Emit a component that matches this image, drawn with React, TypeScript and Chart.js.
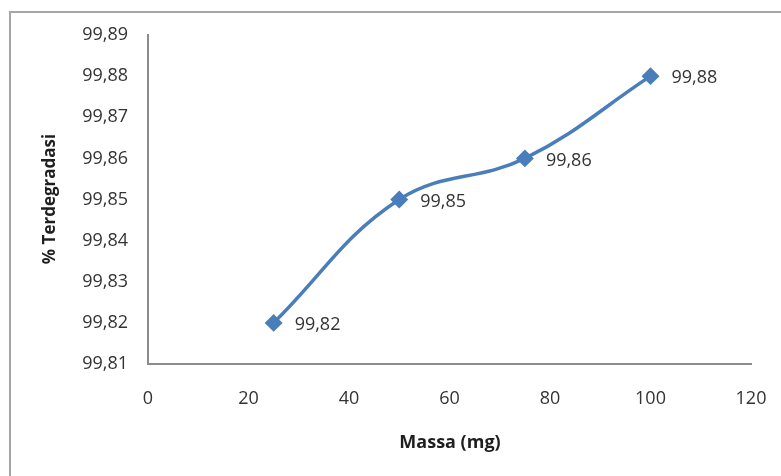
import React, { useEffect, useRef } from "react";
import { Chart, registerables } from "chart.js";

Chart.register(...registerables);

const massa: number[] = [25, 50, 75, 100];
const terdegradasi: number[] = [99.82, 99.85, 99.86, 99.88];
const xTitle = "Massa (mg)";
const yTitle = "% Terdegradasi";

const fmt = (v: number) => v.toFixed(2).replace(".", ",");

const FONT = "'Open Sans', 'Noto Sans', sans-serif";

const decorPlugin = {
  id: "decor",
  beforeDraw(chart: any) {
    const ctx = chart.ctx;
    ctx.save();
    ctx.fillStyle = "#ffffff";
    ctx.fillRect(0, 0, chart.width, chart.height);
    ctx.strokeStyle = "#a6a6a6";
    ctx.lineWidth = 2;
    ctx.strokeRect(10, 12, chart.width + 20, chart.height + 20);
    ctx.restore();
  },
  afterDraw(chart: any) {
    const ctx = chart.ctx;
    ctx.save();
    ctx.fillStyle = "#1f1f1f";
    ctx.font = `bold 18px ${FONT}`;
    ctx.textAlign = "center";
    ctx.textBaseline = "middle";
    ctx.fillText(xTitle, 450, 443);
    ctx.font = `bold 17px ${FONT}`;
    ctx.translate(50, 199);
    ctx.rotate(-Math.PI / 2);
    ctx.fillText(yTitle, 0, 0);
    ctx.restore();

    // data labels
    const meta = chart.getDatasetMeta(0);
    ctx.save();
    ctx.fillStyle = "#333333";
    ctx.font = `18px ${FONT}`;
    ctx.textAlign = "left";
    ctx.textBaseline = "middle";
    meta.data.forEach((pt: any, i: number) => {
      ctx.fillText(fmt(terdegradasi[i]), pt.x + 21, pt.y + 2);
    });
    ctx.restore();
  },
};

export default function App() {
  const ref = useRef<HTMLCanvasElement>(null);
  useEffect(() => {
    if (!ref.current) return;
    const chart = new Chart(ref.current, {
      type: "line",
      data: {
        datasets: [
          {
            data: massa.map((x, i) => ({ x, y: terdegradasi[i] })),
            borderColor: "#4a7ebb",
            backgroundColor: "#4a7ebb",
            borderWidth: 3.5,
            tension: 0.4,
            pointStyle: "rectRot",
            pointRadius: 6.5,
            pointHoverRadius: 6.5,
            fill: false,
          },
        ],
      },
      plugins: [decorPlugin],
      options: {
        animation: false,
        responsive: false,
        devicePixelRatio: 1,
        layout: { padding: { top: 35, right: 30, left: 0, bottom: 0 } },
        plugins: { legend: { display: false }, tooltip: { enabled: false } },
        scales: {
          x: {
            type: "linear",
            min: 0,
            max: 120,
            afterFit: (s: any) => {
              s.height = 112;
              s.paddingLeft = 0;
              s.paddingRight = 0;
            },
            ticks: {
              stepSize: 20,
              color: "#333333",
              font: { family: FONT, size: 18 },
              padding: 24,
              maxRotation: 0,
            },
            grid: { display: false, drawTicks: false },
            border: { display: true, color: "#8c8c8c", width: 2 },
          },
          y: {
            type: "linear",
            min: 99.81,
            max: 99.89,
            afterFit: (s: any) => {
              s.width = 148;
              s.paddingTop = 0;
              s.paddingBottom = 0;
            },
            afterBuildTicks: (s: any) => {
              const t = [];
              for (let i = 0; i <= 8; i++) t.push({ value: 99.81 + i * 0.01 });
              s.ticks = t;
            },
            ticks: {
              color: "#333333",
              font: { family: FONT, size: 18 },
              padding: 20,
              callback: (v: any) => fmt(Number(v)),
            },
            grid: { display: false, drawTicks: false },
            border: { display: true, color: "#8c8c8c", width: 2 },
          },
        },
      },
    } as any);
    return () => chart.destroy();
  }, []);
  return (
    <div style={{ position: "fixed", left: 0, top: 0, width: 781, height: 476 }}>
      <canvas ref={ref} width={781} height={476} style={{ width: 781, height: 476, display: "block" }} />
    </div>
  );
}
